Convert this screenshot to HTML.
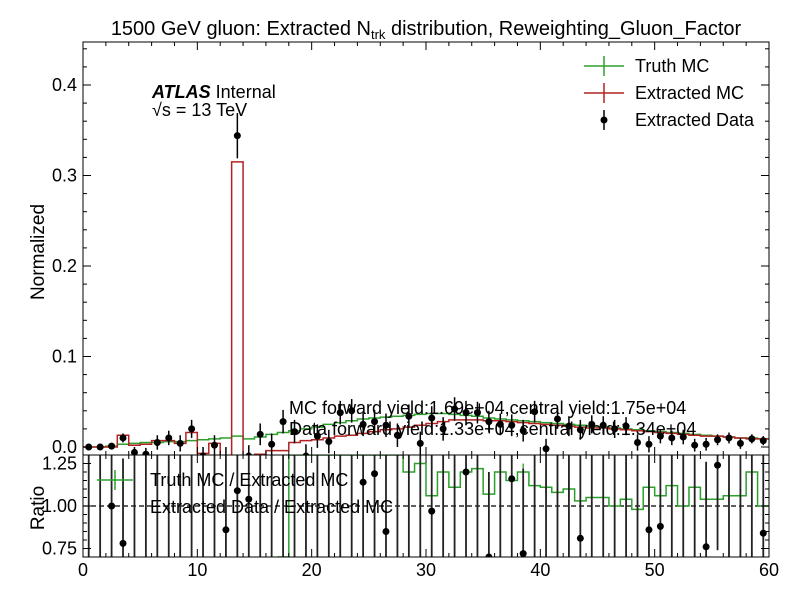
<!DOCTYPE html>
<html><head><meta charset="utf-8"><style>
html,body{margin:0;padding:0;background:#fff;width:799px;height:599px;overflow:hidden;}
svg{display:block;font-family:"Liberation Sans",sans-serif;}
</style></head><body>
<svg id="chart" width="799" height="599" viewBox="0 0 799 599" xmlns="http://www.w3.org/2000/svg" overflow="hidden">
<text x="426" y="35" font-size="20" text-anchor="middle">1500 GeV gluon: Extracted N<tspan font-size="13" dy="4">trk</tspan><tspan dy="-4"> distribution, Reweighting_Gluon_Factor</tspan></text>
<g id="main"></g>
<g id="ratio"></g>
<text x="152" y="98" font-size="18"><tspan font-weight="bold" font-style="italic">ATLAS</tspan> Internal</text>
<text x="152" y="116" font-size="18">√s =  13 TeV</text>
<g font-size="18">
<line x1="584" y1="66" x2="624" y2="66" stroke="#2ca02c" stroke-width="1.5"/><line x1="604" y1="56" x2="604" y2="76" stroke="#2ca02c" stroke-width="1.5"/>
<text x="635" y="72">Truth MC</text>
<line x1="584" y1="93" x2="624" y2="93" stroke="#b22222" stroke-width="1.5"/><line x1="604" y1="83" x2="604" y2="103" stroke="#b22222" stroke-width="1.5"/>
<text x="635" y="99">Extracted MC</text>
<line x1="604" y1="110" x2="604" y2="130" stroke="#000" stroke-width="1.5"/><circle cx="604" cy="120" r="3.5"/>
<text x="635" y="126">Extracted Data</text>
</g>
<text x="289" y="414" font-size="18">MC forward yield:1.69e+04,central yield:1.75e+04</text>
<text x="289" y="435" font-size="18">Data forward yield:1.33e+04,central yield:1.34e+04</text>
<g font-size="18">
<line x1="97" y1="480" x2="133" y2="480" stroke="#2ca02c" stroke-width="1.5"/><line x1="115" y1="470" x2="115" y2="490" stroke="#2ca02c" stroke-width="1.5"/>
<text x="150" y="486">Truth MC / Extracted MC</text>
<text x="150" y="513">Extracted Data / Extracted MC</text>
</g>
<text transform="translate(44,252) rotate(-90)" font-size="19" text-anchor="middle">Normalized</text>
<text transform="translate(44,508) rotate(-90)" font-size="19" text-anchor="middle">Ratio</text>
</svg>
<script>
const truthMC=[0,0,0.001,0.003,0.004,0.005,0.005,0.006,0.006,0.007,0.008,0.009,0.010,0.012,0.009,0.011,0.014,0.016,0.018,0.020,0.022,0.025,0.027,0.029,0.031,0.032,0.033,0.034,0.035,0.036,0.037,0.037,0.036,0.035,0.034,0.032,0.031,0.030,0.029,0.028,0.027,0.026,0.025,0.024,0.023,0.022,0.021,0.020,0.019,0.018,0.017,0.016,0.015,0.014,0.013,0.012,0.011,0.010,0.010,0.009];
const extractedMC=[0,0,0,0.013,0.002,0.003,0.007,0.007,0.004,0.016,-0.007,0.004,-0.01,0.315,-0.01,-0.008,-0.004,-0.004,0.005,0.007,0.008,0.010,0.012,0.013,0.015,0.017,0.019,0.020,0.022,0.024,0.026,0.028,0.030,0.030,0.030,0.029,0.029,0.028,0.027,0.026,0.025,0.024,0.023,0.022,0.021,0.021,0.020,0.019,0.018,0.017,0.016,0.015,0.014,0.013,0.012,0.012,0.011,0.010,0.009,0.009];
const dataVals=[0,0,0.001,0.01,-0.006,-0.008,0.005,0.01,0.004,0.02,-0.01,0.002,-0.012,0.344,-0.01,0.014,0.003,0.028,0.017,-0.01,0.012,0.006,0.038,0.04,0.025,0.028,0.024,0.013,0.034,0.004,0.032,0.02,0.042,0.038,0.038,0.028,0.025,0.024,0.018,0.039,-0.002,0.031,0.023,0.019,0.025,0.024,0.02,0.023,0.005,0.003,0.012,0.01,0.011,0.002,0.003,0.008,0.01,0.004,0.009,0.007];
const dataErr=[0.002,0.002,0.003,0.005,0.006,0.007,0.008,0.008,0.009,0.01,0.01,0.011,0.012,0.025,0.012,0.012,0.012,0.013,0.013,0.013,0.013,0.013,0.013,0.013,0.013,0.013,0.013,0.013,0.013,0.013,0.013,0.013,0.013,0.013,0.012,0.012,0.012,0.012,0.012,0.012,0.011,0.011,0.011,0.011,0.01,0.01,0.01,0.01,0.009,0.009,0.008,0.008,0.008,0.007,0.007,0.006,0.006,0.006,0.005,0.005];
const truthRatio=[null,null,null,null,null,null,null,null,null,null,null,null,null,null,null,null,null,0.5,1.5,1.5,1.5,1.5,1.5,1.5,1.5,1.5,1.5,1.5,1.2,1.25,1.06,1.2,1.11,1.2,1.22,1.07,1.2,1.15,1.2,1.12,1.11,1.08,1.1,1.03,1.05,1.05,1.0,1.04,0.98,1.11,1.06,1.12,1.0,1.11,1.04,1.04,1.06,1.06,1.2,1.0];
const dataRatio=[null,null,1.0,0.78,null,null,null,null,null,null,null,null,0.86,1.09,1.04,null,null,null,null,null,null,null,null,null,1.14,1.19,0.85,null,null,null,0.97,null,null,1.2,null,0.7,null,1.16,0.72,null,null,null,null,0.81,null,null,null,null,null,0.86,0.88,null,null,null,0.76,1.24,null,null,null,0.84];
const xTicks=[0,10,20,30,40,50,60];
const yTicks=[0,0.1,0.2,0.3,0.4];
const yTickLabels=["0.0","0.1","0.2","0.3","0.4"];
const rTicks=[0.75,1.0,1.25];
const rTickLabels=["0.75","1.00","1.25"];

const L=83,R=769,MT=42,MB=455,RT=455,RB=557;
const X=v=>L+(R-L)*v/60;
const Y=v=>447-v*905;
const YR=r=>506-(r-1)*170;
const clampR=y=>Math.max(RT,Math.min(RB,y));
const NS="http://www.w3.org/2000/svg";
function mk(p,tag,at){const e=document.createElementNS(NS,tag);for(const k in at)e.setAttribute(k,at[k]);p.appendChild(e);return e;}
const main=document.getElementById('main'),ratio=document.getElementById('ratio');
const svg=document.getElementById('chart');
const defs=mk(svg,'defs',{});
const c1=mk(defs,'clipPath',{id:'cm'});mk(c1,'rect',{x:L,y:MT,width:R-L,height:MB-MT});
const c2=mk(defs,'clipPath',{id:'cr'});mk(c2,'rect',{x:L,y:RT,width:R-L,height:RB-RT});
const gm=mk(main,'g',{'clip-path':'url(#cm)'});
const gr=mk(ratio,'g',{'clip-path':'url(#cr)'});
function step(g,arr,yf,col,name){
  let d='';let pen=false;
  arr.forEach((v,i)=>{if(v===null){pen=false;return;}
    const y=yf(v);
    if(!pen){d+=`M${X(i)},${y}`;pen=true;}else d+=`L${X(i)},${y}`;
    d+=`L${X(i+1)},${y}`;});
  const p=mk(g,'path',{d:d,fill:'none',stroke:col,'stroke-width':1.5});
  
  
}
step(gm,truthMC,Y,'#2ca02c','truth-mc-line');
step(gm,extractedMC,Y,'#b22222','extracted-mc-line');
dataVals.forEach((v,i)=>{
  const cx=X(i+0.5);
  mk(gm,'line',{x1:cx,x2:cx,y1:Math.min(MB,Y(v-dataErr[i])),y2:Y(v+dataErr[i]),stroke:'#000','stroke-width':1.5});
  const c=mk(gm,'circle',{cx:cx,cy:Y(v),r:3.5,fill:'#000'});
  
  
});
mk(gr,'line',{x1:L,x2:R,y1:YR(1),y2:YR(1),stroke:'#000','stroke-width':1.3,'stroke-dasharray':'5,3'});
step(gr,truthRatio,v=>clampR(YR(v)),'#2ca02c','truth-ratio-line');
truthRatio.forEach((v,i)=>{if(v===null)return;const cx=X(i+0.5);
  mk(gr,'line',{x1:cx,x2:cx,y1:clampR(YR(v-0.05)),y2:clampR(YR(v+0.05)),stroke:'#2ca02c','stroke-width':1.3});});
dataRatio.forEach((v,i)=>{
  const cx=X(i+0.5);
  const vv=v===null?1:v;
  mk(gr,'line',{x1:cx,x2:cx,y1:clampR(YR(vv-0.5)),y2:clampR(YR(vv+0.5)),stroke:'#222','stroke-width':1.8});
  if(v!==null){const c=mk(gr,'circle',{cx:cx,cy:YR(v),r:3.5,fill:'#000'});
  
  }
});
mk(main,'rect',{x:L,y:MT,width:R-L,height:MB-MT,fill:'none',stroke:'#000','stroke-width':1});
mk(ratio,'rect',{x:L,y:RT,width:R-L,height:RB-RT,fill:'none',stroke:'#000','stroke-width':1});
for(let v=0;v<=60;v+=2){const maj=v%10===0;const l=maj?8:4;const x=X(v);
  mk(main,'line',{x1:x,x2:x,y1:MB,y2:MB-l,stroke:'#000'});mk(main,'line',{x1:x,x2:x,y1:MT,y2:MT+l,stroke:'#000'});
  mk(ratio,'line',{x1:x,x2:x,y1:RB,y2:RB-l,stroke:'#000'});mk(ratio,'line',{x1:x,x2:x,y1:RT,y2:RT+l,stroke:'#000'});}
xTicks.forEach(v=>{const t=mk(ratio,'text',{x:X(v),y:576,'font-size':18,'text-anchor':'middle'});t.textContent=v;
  });
for(let k=0;k<=22;k++){const v=k*0.02;const y=Y(v);if(y<MT)break;const maj=k%5===0;const l=maj?8:4;
  mk(main,'line',{x1:L,x2:L+l,y1:y,y2:y,stroke:'#000'});mk(main,'line',{x1:R,x2:R-l,y1:y,y2:y,stroke:'#000'});}
yTicks.forEach((v,i)=>{const t=mk(main,'text',{x:77,y:Y(v)+6,'font-size':18,'text-anchor':'end'});t.textContent=yTickLabels[i];
  });
for(let k=14;k<=26;k++){const v=k*0.05;const y=YR(v);if(y>RB||y<RT)continue;const maj=k%5===0;const l=maj?8:4;
  mk(ratio,'line',{x1:L,x2:L+l,y1:y,y2:y,stroke:'#000'});mk(ratio,'line',{x1:R,x2:R-l,y1:y,y2:y,stroke:'#000'});}
rTicks.forEach((v,i)=>{const t=mk(ratio,'text',{x:77,y:YR(v)+6,'font-size':18,'text-anchor':'end'});t.textContent=rTickLabels[i];
  });
</script>
</body></html>
